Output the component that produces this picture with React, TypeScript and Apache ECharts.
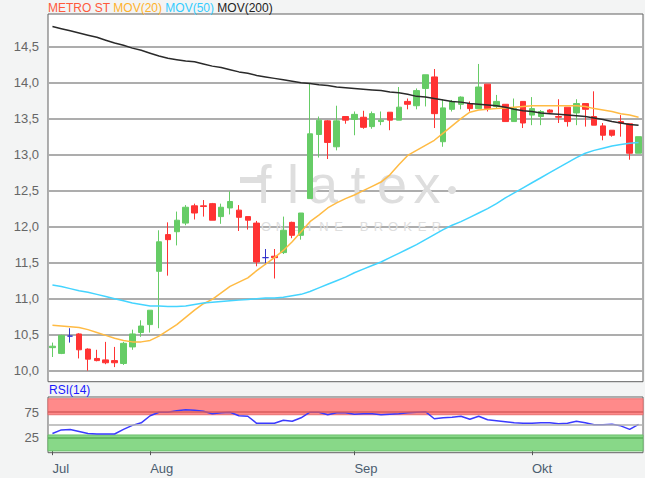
import React, { useEffect, useRef } from 'react';
import * as echarts from 'echarts';

const monthStarts = [0, 11, 34, 54];
const monthNames = ['Jul', 'Aug', 'Sep', 'Okt'];

const opens = [10.32, 10.24, 10.48, 10.51, 10.30, 10.17, 10.15, 10.14, 10.10, 10.33, 10.53, 10.64, 11.38, 11.89, 11.93, 12.05, 12.29, 12.29, 12.32, 12.14, 12.26, 12.23, 12.14, 12.05, 11.57, 11.59, 11.64, 12.06, 11.88, 12.39, 13.28, 13.47, 13.11, 13.53, 13.49, 13.52, 13.39, 13.46, 13.59, 13.48, 13.74, 13.68, 13.92, 14.08, 13.18, 13.63, 13.70, 13.71, 13.64, 13.98, 13.67, 13.70, 13.46, 13.74, 13.55, 13.53, 13.62, 13.53, 13.66, 13.58, 13.71, 13.53, 13.40, 13.34, 13.46, 13.43, 13.02];
const closes = [10.34, 10.49, 10.48, 10.29, 10.16, 10.14, 10.11, 10.11, 10.38, 10.51, 10.62, 10.84, 11.79, 11.82, 12.09, 12.27, 12.19, 12.28, 12.09, 12.27, 12.35, 12.13, 12.09, 11.51, 11.57, 11.57, 11.95, 11.88, 12.19, 13.29, 13.48, 13.17, 13.47, 13.48, 13.56, 13.38, 13.57, 13.48, 13.48, 13.66, 13.70, 13.89, 14.11, 13.57, 13.65, 13.74, 13.80, 13.64, 13.94, 13.64, 13.74, 13.46, 13.64, 13.44, 13.64, 13.60, 13.59, 13.52, 13.46, 13.71, 13.63, 13.41, 13.27, 13.27, 13.44, 13.02, 13.25];
const lows = [10.19, 10.23, 10.39, 10.17, 10.00, 10.13, 10.09, 10.05, 10.08, 10.29, 10.47, 10.53, 10.59, 11.32, 11.74, 12.02, 12.10, 12.14, 12.09, 12.04, 12.17, 11.94, 11.96, 11.45, 11.47, 11.28, 11.62, 11.84, 11.82, 12.39, 12.96, 12.94, 13.06, 13.43, 13.27, 13.36, 13.36, 13.41, 13.34, 13.48, 13.63, 13.63, 13.67, 13.37, 13.11, 13.60, 13.63, 13.60, 13.64, 13.60, 13.64, 13.46, 13.46, 13.37, 13.41, 13.41, 13.57, 13.44, 13.39, 13.41, 13.39, 13.41, 13.20, 13.25, 13.25, 12.93, 13.02];
const highs = [10.39, 10.50, 10.59, 10.52, 10.31, 10.29, 10.40, 10.33, 10.40, 10.57, 10.70, 10.84, 11.95, 12.06, 12.21, 12.30, 12.32, 12.37, 12.33, 12.32, 12.49, 12.30, 12.14, 12.08, 11.69, 11.69, 12.14, 12.07, 12.19, 13.99, 13.53, 13.48, 13.68, 13.53, 13.60, 13.61, 13.60, 13.60, 13.59, 13.94, 13.78, 13.92, 14.11, 14.19, 13.77, 13.76, 13.81, 13.74, 14.26, 13.98, 13.83, 13.70, 13.78, 13.74, 13.80, 13.62, 13.63, 13.77, 13.66, 13.77, 13.71, 13.88, 13.44, 13.34, 13.55, 13.43, 13.25];

const ma20 = [10.63, 10.62, 10.61, 10.60, 10.57, 10.53, 10.49, 10.45, 10.42, 10.40, 10.40, 10.42, 10.48, 10.56, 10.64, 10.74, 10.84, 10.93, 10.99, 11.08, 11.17, 11.23, 11.29, 11.39, 11.48, 11.57, 11.67, 11.79, 11.93, 12.07, 12.16, 12.26, 12.33, 12.39, 12.44, 12.50, 12.56, 12.62, 12.72, 12.86, 12.99, 13.06, 13.13, 13.20, 13.30, 13.40, 13.50, 13.59, 13.62, 13.63, 13.64, 13.65, 13.66, 13.67, 13.68, 13.68, 13.68, 13.68, 13.68, 13.68, 13.67, 13.64, 13.62, 13.60, 13.57, 13.55, 13.52];
const ma50 = [11.19, 11.17, 11.14, 11.11, 11.09, 11.06, 11.03, 11.00, 10.97, 10.94, 10.92, 10.90, 10.90, 10.89, 10.89, 10.90, 10.92, 10.94, 10.95, 10.96, 10.97, 10.98, 10.99, 11.00, 11.01, 11.01, 11.02, 11.04, 11.06, 11.10, 11.15, 11.20, 11.25, 11.30, 11.36, 11.41, 11.46, 11.51, 11.57, 11.63, 11.69, 11.75, 11.82, 11.89, 11.96, 12.02, 12.07, 12.13, 12.19, 12.25, 12.32, 12.40, 12.47, 12.54, 12.61, 12.68, 12.75, 12.82, 12.89, 12.96, 13.02, 13.06, 13.09, 13.12, 13.14, 13.16, 13.17];
const ma200 = [14.78, 14.75, 14.72, 14.69, 14.66, 14.63, 14.59, 14.55, 14.52, 14.48, 14.45, 14.41, 14.37, 14.34, 14.32, 14.30, 14.29, 14.26, 14.23, 14.21, 14.18, 14.15, 14.13, 14.10, 14.08, 14.06, 14.04, 14.02, 14.00, 13.99, 13.97, 13.96, 13.94, 13.93, 13.92, 13.91, 13.90, 13.89, 13.87, 13.86, 13.84, 13.81, 13.80, 13.78, 13.76, 13.74, 13.73, 13.71, 13.70, 13.69, 13.68, 13.66, 13.63, 13.61, 13.60, 13.58, 13.57, 13.56, 13.55, 13.54, 13.53, 13.51, 13.49, 13.46, 13.44, 13.42, 13.41];
const rsi14 = [33, 40, 41, 37, 33, 32, 32, 32, 41, 49, 54, 68, 75, 75, 78, 80, 79, 77, 72, 74, 75, 68, 67, 53, 53, 53, 59, 57, 64, 75, 75, 70, 74, 74, 71, 72, 72, 70, 71, 72, 74, 75, 76, 62, 64, 65, 67, 61, 67, 60, 58, 56, 54, 53, 53, 54, 54, 52, 53, 57, 54, 50, 50, 51, 48, 41, 51];

const priceTicks = [10, 10.5, 11, 11.5, 12, 12.5, 13, 13.5, 14, 14.5];
const rsiTicks = [25, 75];

const categories = opens.map((_, i) => 'T' + i);

const FONT = "'Liberation Sans', Arial, sans-serif";
const GREEN = '#66cc66';
const RED = '#ff3333';
const BLUE = '#3333cc';
const WM = '#dedede';

export default function App() {
  const ref = useRef<HTMLDivElement>(null);
  useEffect(() => {
    if (!ref.current) return;
    const chart = echarts.init(ref.current, null, { renderer: 'svg' });

    const candleData = opens.map((o, i) => {
      const v = [o, closes[i], lows[i], highs[i]];
      if (o === closes[i]) {
        return { value: v, itemStyle: { color: BLUE, color0: BLUE, borderColor: BLUE, borderColor0: BLUE } };
      }
      return v;
    });

    const wmLetters = ['f', 'l', 'a', 't', 'e', 'x'];
    const wmX = [264, 293, 323, 358, 392, 427];
    const brokerText = 'ONLINE BROKER'.split('');
    const brokerGraphics: any[] = [];
    let bx = 266;
    brokerText.forEach((ch) => {
      if (ch === ' ') { bx += 11; return; }
      brokerGraphics.push({
        type: 'text', x: bx, y: 226, z: 1, silent: true,
        style: { text: ch, fill: WM, font: `13px ${FONT}`, align: 'center', verticalAlign: 'middle' },
      });
      bx += 14.5;
    });

    const option: any = {
      animation: false,
      backgroundColor: '#f3f4f4',
      title: {
        text: '{a|METRO ST} {b|MOV(20)} {c|MOV(50)} {d|MOV(200)}',
        left: 48, top: 2, padding: 0,
        textStyle: {
          fontSize: 12, fontFamily: FONT, fontWeight: 'normal',
          rich: {
            a: { color: '#ff5a3c', fontSize: 12, fontFamily: FONT },
            b: { color: '#ffb22c', fontSize: 12, fontFamily: FONT },
            c: { color: '#33ccff', fontSize: 12, fontFamily: FONT },
            d: { color: '#222222', fontSize: 12, fontFamily: FONT },
          },
        },
      },
      grid: [
        { left: 48, right: 2, top: 14, height: 367.7, show: true, backgroundColor: '#ffffff', borderColor: '#606060', borderWidth: 1 },
        { left: 48, right: 2, top: 397, height: 55.7, show: true, backgroundColor: '#ffffff', borderColor: '#606060', borderWidth: 1 },
      ],
      xAxis: [
        {
          type: 'category', gridIndex: 0, data: categories, boundaryGap: true,
          axisLine: { show: false }, axisTick: { show: false }, axisLabel: { show: false }, splitLine: { show: false },
        },
        {
          type: 'category', gridIndex: 1, data: categories, boundaryGap: true,
          axisLine: { show: false },
          axisTick: { show: true, alignWithLabel: true, interval: (i: number) => monthStarts.includes(i), length: 5, lineStyle: { color: '#555' } },
          axisLabel: {
            interval: (i: number) => monthStarts.includes(i),
            formatter: (_v: string, i: number) => monthNames[monthStarts.indexOf(i)] ?? '',
            align: 'left', color: '#4b5d70', fontSize: 13, fontFamily: FONT, margin: 9,
          },
          splitLine: { show: false },
        },
      ],
      yAxis: [
        {
          type: 'value', gridIndex: 0, min: 9.847, max: 14.954, scale: true,
          axisLine: { show: false },
          axisTick: { show: false, customValues: priceTicks },
          axisLabel: { customValues: priceTicks, formatter: (v: number) => v.toFixed(1).replace('.', ','), color: '#666', fontSize: 13, fontFamily: FONT, margin: 9 },
          splitLine: { show: true, lineStyle: { color: '#adadad', width: 2 } },
        },
        {
          type: 'value', gridIndex: 1, min: -5, max: 105,
          axisLine: { show: false },
          axisTick: { show: false, customValues: rsiTicks },
          axisLabel: { customValues: rsiTicks, color: '#666', fontSize: 13, fontFamily: FONT, margin: 9 },
          splitLine: { show: false },
        },
      ],
      graphic: [
        {
          type: 'text', left: 49, top: 384, z: 5, silent: true,
          style: { text: 'RSI(14)', fill: '#1a1aff', font: `12px ${FONT}` },
        },
        { type: 'rect', z: 1, silent: true, shape: { x: 240, y: 177, width: 26, height: 6 }, style: { fill: WM } },
        ...wmLetters.map((ch, k) => ({
          type: 'text', x: wmX[k], y: 184, z: 1, silent: true,
          style: { text: ch, fill: WM, font: `54px ${FONT}`, align: 'center', verticalAlign: 'middle' },
        })),
        { type: 'circle', z: 1, silent: true, shape: { cx: 452, cy: 190, r: 4 }, style: { fill: WM } },
        ...brokerGraphics,
      ],
      series: [
        {
          type: 'candlestick', name: 'METRO ST', xAxisIndex: 0, yAxisIndex: 0,
          data: candleData, barWidth: 6,
          itemStyle: { color: GREEN, color0: RED, borderColor: GREEN, borderColor0: RED, borderWidth: 1 },
        },
        { type: 'line', name: 'MOV(20)', xAxisIndex: 0, yAxisIndex: 0, data: ma20, symbol: 'none', lineStyle: { color: '#ffbb44', width: 1.5 } },
        { type: 'line', name: 'MOV(50)', xAxisIndex: 0, yAxisIndex: 0, data: ma50, symbol: 'none', lineStyle: { color: '#44d4ff', width: 1.5 } },
        { type: 'line', name: 'MOV(200)', xAxisIndex: 0, yAxisIndex: 0, data: ma200, symbol: 'none', lineStyle: { color: '#2a2a2a', width: 1.5 } },
        {
          type: 'line', name: 'RSI(14)', xAxisIndex: 1, yAxisIndex: 1, data: rsi14, symbol: 'none',
          lineStyle: { color: '#3a3aff', width: 1.5 },
          markArea: {
            silent: true,
            data: [
              [{ yAxis: 70, itemStyle: { color: '#ff8a8a', borderColor: '#e87070', borderWidth: 1 } }, { yAxis: 101.5 }],
              [{ yAxis: -1.5, itemStyle: { color: '#88d888', borderColor: '#6cc06c', borderWidth: 1 } }, { yAxis: 30 }],
            ],
          },
          markLine: {
            silent: true, symbol: 'none', label: { show: false },
            data: [
              { yAxis: 75, lineStyle: { color: '#d85c5c', width: 1.5, type: 'solid' } },
              { yAxis: 50, lineStyle: { color: '#b0b0b0', width: 1.5, type: 'solid' } },
              { yAxis: 25, lineStyle: { color: '#58b058', width: 1.5, type: 'solid' } },
            ],
          },
        },
      ],
    };
    chart.setOption(option);
    return () => chart.dispose();
  }, []);
  return <div ref={ref} style={{ position: 'fixed', left: 0, top: 0, width: 645, height: 478 }} />;
}
